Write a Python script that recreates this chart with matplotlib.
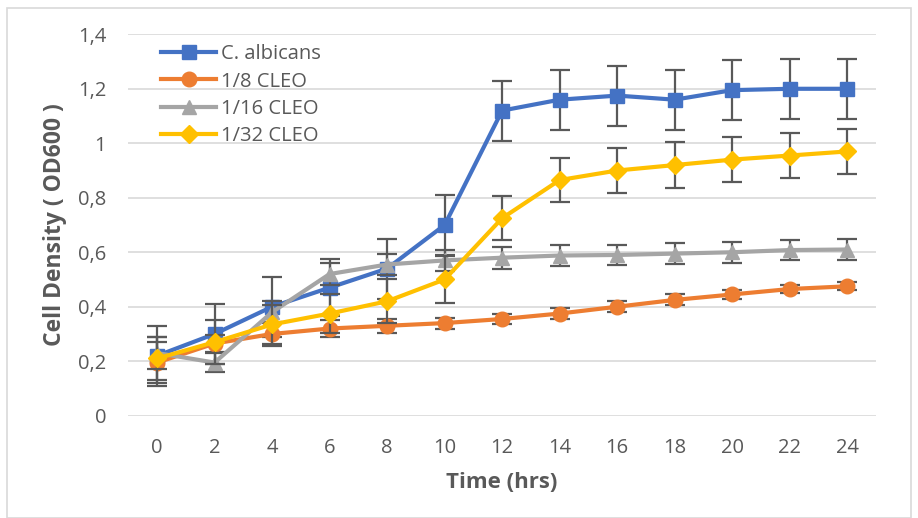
import matplotlib
matplotlib.use('Agg')
import matplotlib.pyplot as plt
from matplotlib.patches import Rectangle

plt.rcParams['font.family'] = ['Open Sans', 'DejaVu Sans']

# dados
time_hrs = [0, 2, 4, 6, 8, 10, 12, 14, 16, 18, 20, 22, 24]
tick_labels = [str(t) for t in time_hrs]

albicans = [0.22, 0.30, 0.40, 0.47, 0.54, 0.70, 1.12, 1.16, 1.175, 1.16, 1.195, 1.20, 1.20]
albicans_err = [0.11, 0.11, 0.11, 0.105, 0.11, 0.11, 0.11, 0.11, 0.11, 0.11, 0.11, 0.11, 0.11]

cleo_8 = [0.195, 0.265, 0.30, 0.32, 0.33, 0.34, 0.355, 0.375, 0.40, 0.425, 0.445, 0.465, 0.475]
cleo_8_err = [0.075, 0.03, 0.045, 0.03, 0.025, 0.02, 0.02, 0.02, 0.02, 0.02, 0.015, 0.015, 0.015]

cleo_16 = [0.23, 0.195, 0.38, 0.52, 0.555, 0.57, 0.58, 0.588, 0.59, 0.595, 0.60, 0.608, 0.61]
cleo_16_err = [0.06, 0.035, 0.04, 0.04, 0.04, 0.04, 0.04, 0.038, 0.038, 0.038, 0.038, 0.038, 0.038]

cleo_32 = [0.21, 0.27, 0.335, 0.375, 0.42, 0.50, 0.725, 0.865, 0.90, 0.92, 0.94, 0.955, 0.97]
cleo_32_err = [0.08, 0.08, 0.07, 0.07, 0.08, 0.085, 0.08, 0.082, 0.082, 0.083, 0.083, 0.083, 0.083]

series = [
    ('C. albicans', albicans, albicans_err, '#4472C4', 's'),
    ('1/8 CLEO', cleo_8, cleo_8_err, '#ED7D31', 'o'),
    ('1/16 CLEO', cleo_16, cleo_16_err, '#A5A5A5', '^'),
    ('1/32 CLEO', cleo_32, cleo_32_err, '#FFC000', 'D'),
]

fig = plt.figure(figsize=(9.18, 5.18), dpi=100)
ax = fig.add_axes([128.3 / 918, 1 - 415.7 / 518, (876 - 128.3) / 918, (415.7 - 34.3) / 518])

# borda do gráfico
fig.patches.append(Rectangle((7 / 918, 0), (911 - 7) / 918, 1 - 8 / 518, transform=fig.transFigure,
                             fill=False, edgecolor='#D9D9D9', linewidth=1.2))

text_color = '#595959'

for i, (name, vals, err, color, marker) in enumerate(series):
    ax.errorbar(time_hrs, vals, yerr=err, fmt='none', ecolor='#595959', elinewidth=1.6,
                capsize=7.5, capthick=1.6, zorder=2 + i * 2)
    ms = 9 if marker == 'D' else 10.5
    ax.plot(time_hrs, vals, color=color, linewidth=3, marker=marker, markersize=ms,
            label=name, zorder=3 + i * 2)

ax.set_xlim(-1, 25)
ax.set_ylim(0, 1.4)
ax.set_xticks(time_hrs)
ax.set_xticklabels(tick_labels)
yt = [0, 0.2, 0.4, 0.6, 0.8, 1.0, 1.2, 1.4]
ax.set_yticks(yt)
ax.set_yticklabels(['0', '0,2', '0,4', '0,6', '0,8', '1', '1,2', '1,4'])
ax.grid(axis='y', color='#D9D9D9', linewidth=1.2)
ax.set_axisbelow(True)
for s in ax.spines.values():
    s.set_visible(False)
ax.tick_params(axis='both', length=0, labelsize=14.5, labelcolor=text_color)
ax.tick_params(axis='y', pad=16)
ax.tick_params(axis='x', pad=16)

ax.set_xlabel('Time (hrs)', fontsize=16, fontweight='bold', color=text_color, labelpad=10)
ax.set_ylabel('Cell Density ( OD600 )', fontsize=16.5, fontweight='bold', color=text_color, labelpad=8)

leg = ax.legend(loc='upper left', bbox_to_anchor=(0.033, 0.995), frameon=False, fontsize=14.5,
                handlelength=2.75, handletextpad=0.25, labelspacing=0.36, borderaxespad=0)
for t in leg.get_texts():
    t.set_color(text_color)

plt.savefig('out.png', dpi=100)
